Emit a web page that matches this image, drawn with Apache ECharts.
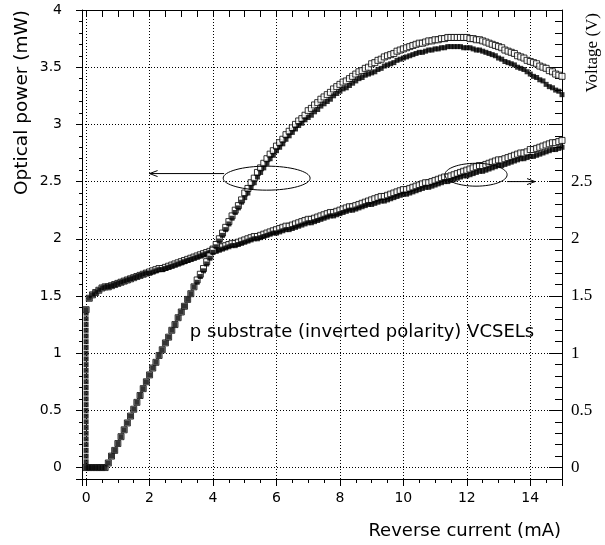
<!DOCTYPE html>
<html>
<head>
<meta charset="utf-8">
<script src="https://cdn.jsdelivr.net/npm/echarts@6/dist/echarts.min.js"></script>
<style>
html,body{margin:0;padding:0;background:#fff}
#chart{width:605px;height:545px}
</style>
</head>
<body>
<div id="chart"></div>
<script>
// reverse current sweep (mA)
const current = [
  0,0.1,0.2,0.3,0.4,0.5,0.6,0.7,0.8,0.9,
  1,1.1,1.2,1.3,1.4,1.5,1.6,1.7,1.8,1.9,
  2,2.1,2.2,2.3,2.4,2.5,2.6,2.7,2.8,2.9,
  3,3.1,3.2,3.3,3.4,3.5,3.6,3.7,3.8,3.9,
  4,4.1,4.2,4.3,4.4,4.5,4.6,4.7,4.8,4.9,
  5,5.1,5.2,5.3,5.4,5.5,5.6,5.7,5.8,5.9,
  6,6.1,6.2,6.3,6.4,6.5,6.6,6.7,6.8,6.9,
  7,7.1,7.2,7.3,7.4,7.5,7.6,7.7,7.8,7.9,
  8,8.1,8.2,8.3,8.4,8.5,8.6,8.7,8.8,8.9,
  9,9.1,9.2,9.3,9.4,9.5,9.6,9.7,9.8,9.9,
  10,10.1,10.2,10.3,10.4,10.5,10.6,10.7,10.8,10.9,
  11,11.1,11.2,11.3,11.4,11.5,11.6,11.7,11.8,11.9,
  12,12.1,12.2,12.3,12.4,12.5,12.6,12.7,12.8,12.9,
  13,13.1,13.2,13.3,13.4,13.5,13.6,13.7,13.8,13.9,
  14,14.1,14.2,14.3,14.4,14.5,14.6,14.7,14.8,14.9,
  15
];

// optical power (mW), two devices
const powerA = [
  0,0,0,0,0,0,0,0.04,0.10,0.15,
  0.21,0.27,0.33,0.39,0.45,0.51,0.57,0.63,0.69,0.75,
  0.81,0.87,0.92,0.98,1.03,1.09,1.14,1.20,1.25,1.31,
  1.36,1.41,1.47,1.52,1.58,1.64,1.69,1.74,1.80,1.85,
  1.90,1.95,2.00,2.05,2.10,2.15,2.20,2.25,2.29,2.34,
  2.40,2.44,2.49,2.53,2.58,2.62,2.66,2.70,2.74,2.77,
  2.81,2.84,2.87,2.91,2.94,2.97,3.00,3.03,3.05,3.08,
  3.12,3.14,3.17,3.19,3.22,3.24,3.26,3.28,3.31,3.33,
  3.35,3.37,3.38,3.40,3.42,3.44,3.46,3.47,3.49,3.50,
  3.53,3.54,3.56,3.57,3.59,3.60,3.61,3.62,3.64,3.65,
  3.66,3.67,3.68,3.69,3.70,3.71,3.71,3.72,3.73,3.73,
  3.74,3.74,3.75,3.75,3.76,3.76,3.76,3.76,3.76,3.76,
  3.76,3.75,3.75,3.74,3.74,3.73,3.72,3.71,3.70,3.69,
  3.68,3.67,3.65,3.64,3.63,3.62,3.60,3.59,3.58,3.56,
  3.55,3.54,3.53,3.51,3.50,3.49,3.47,3.46,3.44,3.43,
  3.42
];
const powerB = [
  0,0,0,0,0,0,0,0.04,0.10,0.15,
  0.21,0.27,0.33,0.39,0.45,0.51,0.57,0.63,0.69,0.75,
  0.81,0.87,0.92,0.98,1.03,1.09,1.14,1.20,1.25,1.31,
  1.36,1.41,1.47,1.52,1.58,1.62,1.67,1.72,1.78,1.83,
  1.88,1.93,1.98,2.03,2.08,2.13,2.18,2.23,2.27,2.32,
  2.36,2.40,2.45,2.49,2.54,2.58,2.62,2.66,2.70,2.73,
  2.77,2.80,2.83,2.87,2.90,2.93,2.96,2.99,3.01,3.04,
  3.06,3.08,3.11,3.13,3.16,3.18,3.20,3.22,3.25,3.27,
  3.29,3.31,3.32,3.34,3.36,3.38,3.40,3.41,3.43,3.44,
  3.45,3.46,3.48,3.49,3.51,3.52,3.53,3.54,3.56,3.57,
  3.58,3.59,3.60,3.61,3.62,3.63,3.63,3.64,3.65,3.65,
  3.66,3.66,3.67,3.67,3.68,3.68,3.68,3.68,3.68,3.67,
  3.67,3.67,3.66,3.65,3.65,3.64,3.63,3.62,3.61,3.60,
  3.58,3.57,3.55,3.54,3.53,3.52,3.50,3.49,3.48,3.46,
  3.44,3.42,3.41,3.39,3.38,3.35,3.33,3.32,3.30,3.29,
  3.26
];

// voltage (V), two devices
const voltageA = [
  1.38,1.48,1.51,1.53,1.55,1.57,1.58,1.58,1.59,1.60,
  1.61,1.62,1.63,1.64,1.65,1.66,1.67,1.68,1.69,1.70,
  1.71,1.72,1.73,1.74,1.74,1.75,1.76,1.77,1.78,1.79,
  1.80,1.81,1.82,1.83,1.84,1.85,1.86,1.87,1.88,1.89,
  1.91,1.91,1.92,1.93,1.94,1.95,1.96,1.96,1.97,1.98,
  1.99,2.00,2.01,2.02,2.02,2.03,2.04,2.05,2.06,2.07,
  2.08,2.09,2.10,2.11,2.11,2.12,2.13,2.14,2.15,2.16,
  2.17,2.17,2.18,2.19,2.20,2.21,2.22,2.23,2.23,2.24,
  2.25,2.26,2.27,2.28,2.28,2.29,2.30,2.31,2.32,2.33,
  2.34,2.35,2.36,2.37,2.37,2.38,2.39,2.40,2.41,2.42,
  2.43,2.43,2.44,2.45,2.46,2.47,2.48,2.49,2.49,2.50,
  2.51,2.52,2.53,2.54,2.54,2.55,2.56,2.57,2.58,2.59,
  2.60,2.61,2.62,2.63,2.64,2.64,2.65,2.66,2.67,2.68,
  2.69,2.69,2.70,2.71,2.72,2.73,2.74,2.75,2.75,2.76,
  2.78,2.78,2.79,2.80,2.81,2.82,2.83,2.84,2.84,2.85,
  2.86
];
const voltageB = [
  1.38,1.48,1.51,1.53,1.55,1.57,1.58,1.58,1.59,1.60,
  1.61,1.62,1.63,1.64,1.65,1.66,1.67,1.68,1.69,1.70,
  1.70,1.71,1.72,1.73,1.73,1.74,1.75,1.76,1.77,1.78,
  1.79,1.80,1.81,1.82,1.83,1.84,1.85,1.86,1.87,1.88,
  1.89,1.89,1.90,1.91,1.92,1.93,1.94,1.94,1.95,1.96,
  1.97,1.98,1.99,2.00,2.00,2.01,2.02,2.03,2.04,2.05,
  2.05,2.06,2.07,2.08,2.08,2.09,2.10,2.11,2.12,2.13,
  2.14,2.14,2.15,2.16,2.17,2.18,2.19,2.20,2.20,2.21,
  2.22,2.23,2.24,2.25,2.25,2.26,2.27,2.28,2.29,2.30,
  2.30,2.31,2.32,2.33,2.33,2.34,2.35,2.36,2.37,2.38,
  2.39,2.39,2.40,2.41,2.42,2.43,2.44,2.45,2.45,2.46,
  2.47,2.48,2.49,2.50,2.50,2.51,2.52,2.53,2.54,2.55,
  2.55,2.56,2.57,2.58,2.59,2.59,2.60,2.61,2.62,2.63,
  2.64,2.64,2.65,2.66,2.67,2.68,2.69,2.70,2.70,2.71,
  2.72,2.72,2.73,2.74,2.75,2.76,2.77,2.78,2.78,2.79,
  2.80
];

// points recorded at ~0 mA below turn-on
const turnOnCurrent = [0,0,0,0,0,0,0,0,0,0,0,0,0,0,0,0,0,0,0,0,0,0,0,0,0,0,0,0];
const turnOnVoltage = [0,0.05,0.10,0.15,0.20,0.25,0.30,0.35,0.40,0.45,0.50,0.55,0.60,0.65,
  0.70,0.75,0.80,0.85,0.90,0.95,1.00,1.05,1.10,1.15,1.20,1.25,1.30,1.35];

// annotation ellipses and arrows, in data units (mA, mW)
const ellipses = [
  {cx: 5.69, cy: 2.53, rx: 1.37, ry: 0.105},
  {cx: 12.29, cy: 2.56, rx: 0.98, ry: 0.10}
];
const arrows = [
  {from: [4.35, 2.57], to: [2.0, 2.57]},
  {from: [13.27, 2.50], to: [14.15, 2.50]}
];
const noteText = 'p substrate (inverted polarity) VCSELs';
const notePos = [3.27, 1.18];

const black = '#000';
const sans = 'DejaVu Sans';
const serif = 'Liberation Serif';

function pairs(xs, ys) {
  return xs.map((x, i) => [x, ys[i]]);
}

const chart = echarts.init(document.getElementById('chart'));

const filled = {color: black};
const hollow = {color: '#fff', borderColor: black, borderWidth: 1};
const dotted = {show: true, lineStyle: {color: black, width: 1, type: [1, 2]}};

chart.setOption({
  animation: false,
  grid: {left: 82, right: 43, top: 10, bottom: 66},
  xAxis: [
    {
      type: 'value', position: 'bottom', min: -0.13, max: 15, splitNumber: 8,
      axisLine: {onZero: false, lineStyle: {color: black, width: 1}},
      axisTick: {length: 7, lineStyle: {color: black}},
      minorTick: {show: true, splitNumber: 4, length: 4, lineStyle: {color: black}},
      axisLabel: {showMinLabel: false, showMaxLabel: false, margin: 12, color: black, fontFamily: sans, fontSize: 14},
      splitLine: dotted
    },
    {
      type: 'value', position: 'top', min: -0.13, max: 15, splitNumber: 8,
      axisLine: {onZero: false, lineStyle: {color: black, width: 1}},
      axisTick: {inside: true, length: 7, lineStyle: {color: black}},
      minorTick: {show: true, splitNumber: 4, length: 7, lineStyle: {color: black}},
      axisLabel: {show: false},
      splitLine: {show: false}
    }
  ],
  yAxis: [
    {
      type: 'value', position: 'left', min: -0.1, max: 4, splitNumber: 8,
      axisLine: {onZero: false, lineStyle: {color: black, width: 1}},
      axisTick: {length: 6, lineStyle: {color: black}},
      minorTick: {show: true, splitNumber: 5, length: 3, lineStyle: {color: black}},
      axisLabel: {showMinLabel: false, margin: 20, color: black, fontFamily: sans, fontSize: 14},
      splitLine: dotted
    },
    {
      type: 'value', position: 'right', min: -0.1, max: 4, splitNumber: 8,
      axisLine: {onZero: false, lineStyle: {color: black, width: 1}},
      axisTick: {inside: true, length: 13, lineStyle: {color: black}},
      minorTick: {show: true, splitNumber: 5, length: 7, lineStyle: {color: black}},
      axisLabel: {
        showMinLabel: false, margin: 9, color: black, fontFamily: serif, fontSize: 17,
        formatter: v => (v <= 2.5 ? String(v) : '')
      },
      splitLine: {show: false}
    }
  ],
  series: [
    {type: 'scatter', silent: true, xAxisIndex: 0, yAxisIndex: 1, symbol: 'rect', symbolSize: 5,
      itemStyle: filled, data: pairs(turnOnCurrent, turnOnVoltage)},
    {type: 'scatter', silent: true, xAxisIndex: 0, yAxisIndex: 1, symbol: 'rect', symbolSize: 6,
      itemStyle: hollow, data: pairs(current, voltageA)},
    {type: 'scatter', silent: true, xAxisIndex: 0, yAxisIndex: 1, symbol: 'rect', symbolSize: 5,
      itemStyle: filled, data: pairs(current, voltageB)},
    {type: 'scatter', silent: true, xAxisIndex: 0, yAxisIndex: 0, symbol: 'rect', symbolSize: 6,
      itemStyle: hollow, data: pairs(current, powerA)},
    {type: 'scatter', silent: true, xAxisIndex: 0, yAxisIndex: 0, symbol: 'rect', symbolSize: 5,
      itemStyle: filled, data: pairs(current, powerB)}
  ]
});

// annotations placed through the chart's own scales
const toPx = p => chart.convertToPixel({seriesIndex: 3}, p);
const graphics = [];
ellipses.forEach(e => {
  const c = toPx([e.cx, e.cy]);
  const r = toPx([e.cx + e.rx, e.cy + e.ry]);
  graphics.push({
    type: 'ellipse', silent: true, z: 10,
    shape: {cx: c[0], cy: c[1], rx: r[0] - c[0], ry: c[1] - r[1]},
    style: {fill: 'none', stroke: black, lineWidth: 1}
  });
});
arrows.forEach(a => {
  const p0 = toPx(a.from);
  const p1 = toPx(a.to);
  const dir = Math.sign(p1[0] - p0[0]);
  graphics.push({
    type: 'line', silent: true, z: 10,
    shape: {x1: p0[0], y1: p0[1], x2: p1[0], y2: p1[1]},
    style: {stroke: black, lineWidth: 1}
  });
  graphics.push({
    type: 'polyline', silent: true, z: 10,
    shape: {points: [[p1[0] - dir * 8, p1[1] - 3], [p1[0], p1[1]], [p1[0] - dir * 8, p1[1] + 3]]},
    style: {stroke: black, fill: 'none', lineWidth: 1}
  });
});
const np = toPx(notePos);
graphics.push({
  type: 'text', silent: true, z: 10, x: np[0], y: np[1],
  style: {text: noteText, fill: black, font: '18px "DejaVu Sans"', align: 'left', verticalAlign: 'middle'}
});
graphics.push({
  type: 'text', silent: true, x: 22, y: 10, rotation: Math.PI / 2,
  style: {text: 'Optical power (mW)', fill: black, font: '18.5px "DejaVu Sans"', align: 'right', verticalAlign: 'middle'}
});
graphics.push({
  type: 'text', silent: true, x: 593, y: 13, rotation: Math.PI / 2,
  style: {text: 'Voltage (V)', fill: black, font: '17px "Liberation Serif"', align: 'right', verticalAlign: 'middle'}
});
graphics.push({
  type: 'text', silent: true, x: 561, y: 531,
  style: {text: 'Reverse current (mA)', fill: black, font: '18px "DejaVu Sans"', align: 'right', verticalAlign: 'middle'}
});
chart.setOption({graphic: graphics});
</script>
</body>
</html>
